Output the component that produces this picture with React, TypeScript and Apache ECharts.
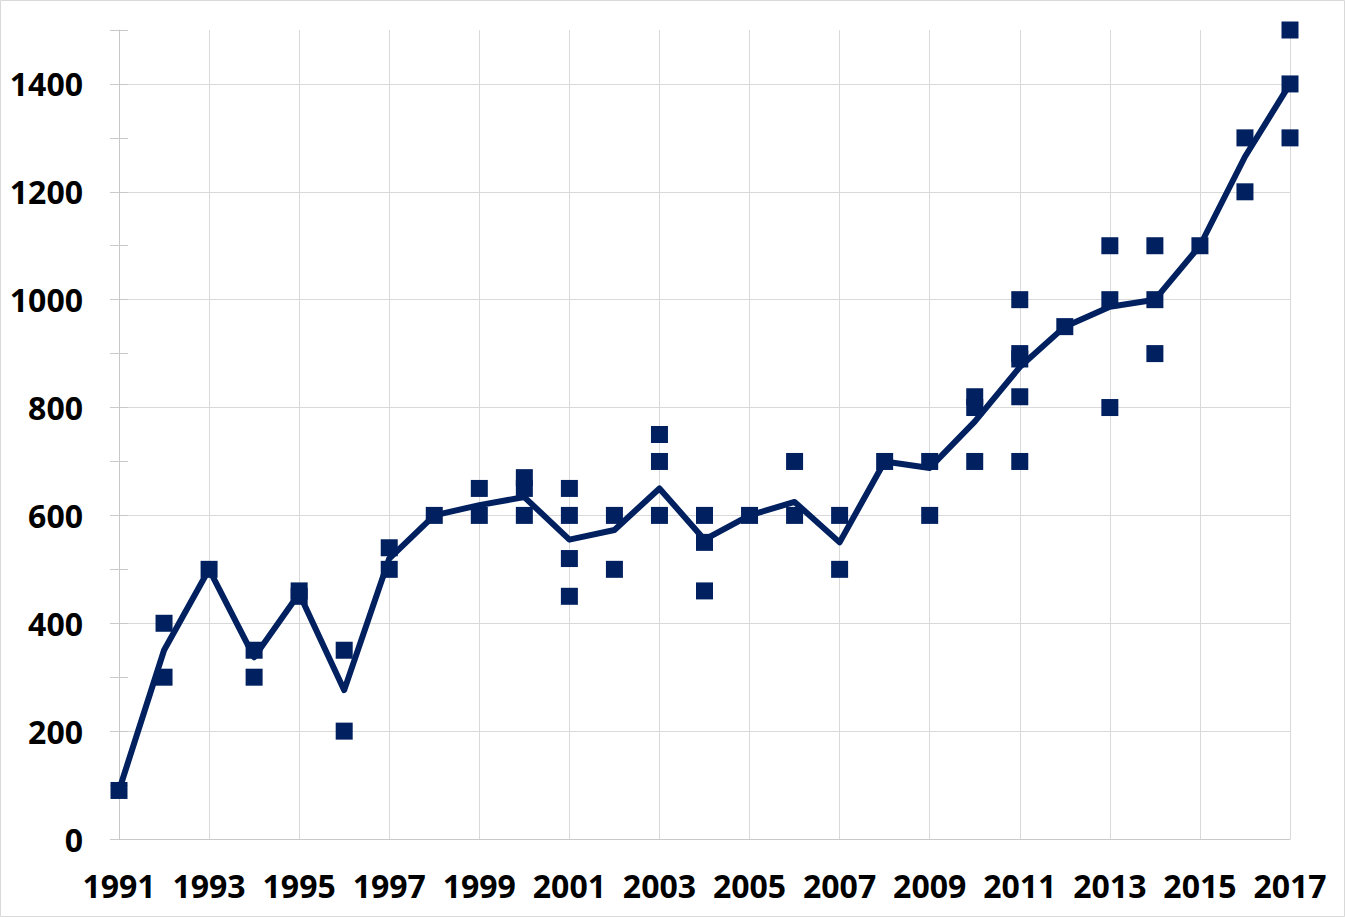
import React, { useEffect, useRef } from "react";
import * as echarts from "echarts";

const years = [
  "1991", "1992", "1993", "1994", "1995", "1996", "1997", "1998", "1999",
  "2000", "2001", "2002", "2003", "2004", "2005", "2006", "2007", "2008",
  "2009", "2010", "2011", "2012", "2013", "2014", "2015", "2016", "2017",
];

const trendValues = [
  90, 350, 500, 337, 455, 276, 520, 600, 619,
  634, 555, 573, 650, 555, 600, 625, 550, 700,
  688, 774, 875, 950, 987, 1000, 1100, 1265, 1400,
];

const pointYears = [
  "1991",
  "1992", "1992",
  "1993",
  "1994", "1994",
  "1995", "1995",
  "1996", "1996",
  "1997", "1997",
  "1998",
  "1999", "1999",
  "2000", "2000", "2000",
  "2001", "2001", "2001", "2001",
  "2002", "2002",
  "2003", "2003", "2003",
  "2004", "2004", "2004",
  "2005",
  "2006", "2006",
  "2007", "2007",
  "2008",
  "2009", "2009",
  "2010", "2010", "2010",
  "2011", "2011", "2011", "2011", "2011",
  "2012",
  "2013", "2013", "2013",
  "2014", "2014", "2014",
  "2015",
  "2016", "2016",
  "2017", "2017", "2017",
];

const pointValues = [
  90,
  400, 300,
  500,
  350, 300,
  460, 450,
  350, 200,
  540, 500,
  600,
  650, 600,
  670, 650, 600,
  650, 600, 520, 450,
  600, 500,
  750, 700, 600,
  600, 550, 460,
  600,
  700, 600,
  600, 500,
  700,
  700, 600,
  820, 800, 700,
  1000, 900, 890, 820, 700,
  950,
  1100, 1000, 800,
  1100, 1000, 900,
  1100,
  1300, 1200,
  1500, 1400, 1300,
];

const yMin = 0;
const yMax = 1500;
const yStep = 100;

const NAVY = "#002060";
const GRID = "#d9d9d9";
const AXIS = "#c9c9c9";
const FONT = "'Open Sans', 'Noto Sans', sans-serif";

export default function App() {
  const ref = useRef<HTMLDivElement>(null);

  useEffect(() => {
    if (!ref.current) return;
    const chart = echarts.init(ref.current, undefined, { renderer: "svg" });
    const points = pointYears.map((y, i) => [y, pointValues[i]]);
    chart.setOption({
      animation: false,
      backgroundColor: "#ffffff",
      graphic: [
        {
          type: "rect",
          shape: { x: 0.5, y: 0.5, width: 1344, height: 916 },
          style: { fill: "none", stroke: GRID, lineWidth: 1 },
          silent: true,
        },
      ],
      grid: { left: 119, right: 55, top: 30, bottom: 78 },
      xAxis: {
        type: "category",
        data: years,
        boundaryGap: false,
        axisLine: { show: true, lineStyle: { color: AXIS, width: 1 } },
        axisTick: { show: false },
        axisLabel: {
          interval: 1,
          color: "#000",
          fontFamily: FONT,
          fontWeight: "bold",
          fontSize: 32,
          margin: 30,
        },
        splitLine: { show: true, interval: 1, lineStyle: { color: GRID, width: 1 } },
      },
      yAxis: [
        {
          type: "value",
          min: yMin,
          max: yMax,
          interval: yStep,
          axisLine: { show: true, lineStyle: { color: AXIS, width: 1 } },
          axisTick: { show: true, inside: false, length: 9, lineStyle: { color: AXIS } },
          axisLabel: {
            color: "#000",
            fontFamily: FONT,
            fontWeight: "bold",
            fontSize: 32,
            margin: 36,
            formatter: (v: number) => (v % 200 === 0 ? String(v) : ""),
          },
          splitLine: {
            show: true,
            lineStyle: { color: [GRID, "rgba(0,0,0,0)"], width: 1 },
          },
        },
        {
          type: "value",
          min: yMin,
          max: yMax,
          interval: yStep,
          position: "left",
          axisLine: { show: false },
          axisTick: { show: true, inside: true, length: 9, lineStyle: { color: AXIS } },
          axisLabel: { show: false },
          splitLine: { show: false },
        },
      ],
      series: [
        {
          type: "scatter",
          data: points,
          symbol: "rect",
          symbolSize: 17,
          itemStyle: { color: NAVY, opacity: 1 },
          z: 2,
        },
        {
          type: "line",
          data: trendValues,
          showSymbol: false,
          symbol: "none",
          lineStyle: { color: NAVY, width: 6, join: "round", cap: "round", opacity: 1 },
          z: 3,
        },
      ],
    });
    return () => chart.dispose();
  }, []);

  return (
    <div
      ref={ref}
      style={{ position: "absolute", left: 0, top: 0, width: 1345, height: 917 }}
    />
  );
}
